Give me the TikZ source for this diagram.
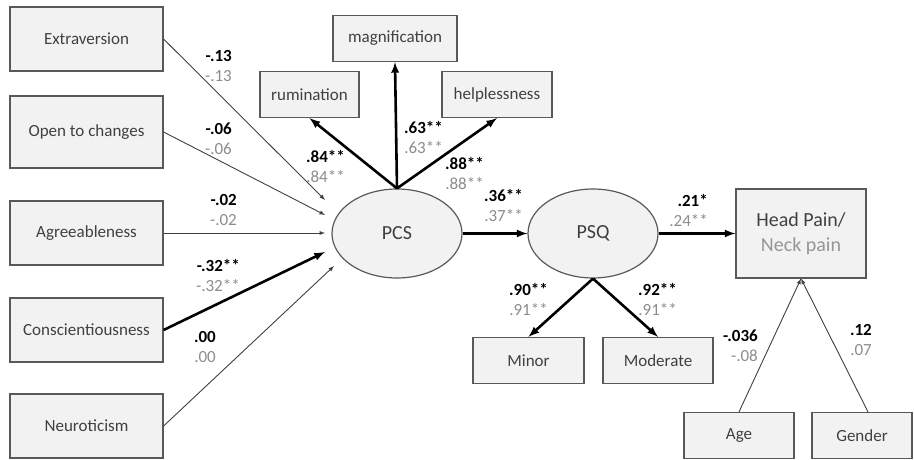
\documentclass[tikz,border=0pt]{standalone}
\usepackage{fontspec}
\setmainfont{Carlito}
\usepackage{tikz}
\usetikzlibrary{shapes,arrows,positioning,calc}
\definecolor{boxFill}{RGB}{242,242,242}
\definecolor{boxLine}{RGB}{89,89,89}
\definecolor{boxText}{RGB}{64,64,64}
\definecolor{coefGrey}{RGB}{140,140,140}
\definecolor{neckGrey}{RGB}{150,150,150}

\begin{document}
\begin{tikzpicture}[
    x=1pt, y=-1pt,
    node distance=94pt,
    box/.style={rectangle, draw=boxLine, line width=1.2pt, fill=boxFill, text=boxText, inner sep=0pt, minimum width=153pt, minimum height=64pt, font=\fontsize{17}{20}\selectfont},
    item/.style={box, minimum height=46pt},
    latent/.style={ellipse, draw=boxLine, line width=1.2pt, fill=boxFill, text=boxText, inner sep=0pt, minimum width=130pt, minimum height=89pt, font=\fontsize{20}{24}\selectfont},
    arrow/.style={-latex, line width=0.9pt, draw=boxText},
    thickarrow/.style={-latex, line width=2.6pt},
    coef/.style={align=right, anchor=east, inner sep=0pt, font=\fontsize{17}{20}\selectfont}
]
    \useasboundingbox (0,0) rectangle (914,460);

    % Personality traits
    \node[box] (extra) at (86.5,39) {Extraversion};
    \node[box, below of=extra, minimum height=72pt, yshift=1pt] (open) {Open to changes};
    \node[box, below of=open, yshift=-7pt] (agree) {Agreeableness};
    \node[box, below of=agree, yshift=-3pt] (consc) {Conscientiousness};
    \node[box, below of=consc, yshift=-2pt] (neuro) {Neuroticism};

    % PCS and its items
    \node[latent] (pcs) at (397,233.5) {PCS};
    \node[item, minimum width=124pt] (magni) at (395,38.5) {magnification};
    \node[item, minimum width=99pt] (rumi) at (309.5,94.5) {rumination};
    \node[item, minimum width=110pt] (help) at (497,94.5) {helplessness};

    % PSQ and its items
    \node[latent, right of=pcs, xshift=102pt] (psq) {PSQ};
    \node[item, minimum width=111pt] (minor) at (528.5,360.5) {Minor};
    \node[item, minimum width=110pt] (moder) at (658,360.5) {Moderate};

    % Outcome
    \node[box, right of=psq, xshift=114pt, minimum width=130pt, minimum height=89pt, align=center, font=\fontsize{20}{25}\selectfont] (pain) {Head Pain/\\\textcolor{neckGrey}{Neck pain}};
    \node[item, minimum width=110pt] (age) at (739,435.5) {Age};
    \node[item, minimum width=100pt] (gender) at (862,435.5) {Gender};

    % Arrow ends in front of PCS
    \coordinate (inExtra) at (325,200);
    \coordinate (inOpen) at (325,215);
    \coordinate (inAgree) at (325,233);
    \coordinate (inConsc) at (325,252);
    \coordinate (inNeuro) at (334,266);

    % Arrows
    \draw[arrow] (extra.east) -- (inExtra);
    \draw[arrow] (open.east) -- (inOpen);
    \draw[arrow] (agree.east |- inAgree) -- (inAgree);
    \draw[thickarrow] (consc.east) -- (inConsc);
    \draw[arrow] (neuro.east) -- (inNeuro);
    \draw[thickarrow] (pcs.north) -- (rumi.south);
    \draw[thickarrow] (pcs.north) -- (magni.south);
    \draw[thickarrow] (pcs.north) -- (help.south);
    \draw[thickarrow] (pcs.east) -- (psq.west);
    \draw[thickarrow] (psq.east) -- (pain.west);
    \draw[thickarrow] (psq.south) -- (minor.north);
    \draw[thickarrow] (psq.south) -- (moder.north);
    \draw[arrow] (age.north) -- (pain.south);
    \draw[arrow] ($(gender.north)+(6,0)$) -- (pain.south);

    % Coefficients
    \node[coef] (cExtra) at (232,66) {\textbf{-.13}\\\textcolor{coefGrey}{-.13}};
    \node[coef] (cOpen) at (232,139) {\textbf{-.06}\\\textcolor{coefGrey}{-.06}};
    \node[coef] (cAgree) at (237,210) {\textbf{-.02}\\\textcolor{coefGrey}{-.02}};
    \node[coef] (cConsc) at (240,275) {\textbf{-.32**}\\\textcolor{coefGrey}{-.32**}};
    \node[coef] (cNeuro) at (216,347) {\textbf{.00}\\\textcolor{coefGrey}{.00}};
    \node[coef] (cRumi) at (345,166.5) {\textbf{.84**}\\\textcolor{coefGrey}{.84**}};
    \node[coef] (cMagni) at (443,137) {\textbf{.63**}\\\textcolor{coefGrey}{.63**}};
    \node[coef] (cHelp) at (484,173) {\textbf{.88**}\\\textcolor{coefGrey}{.88**}};
    \node[coef] (cPsq) at (523,205) {\textbf{.36**}\\\textcolor{coefGrey}{.37**}};
    \node[coef] (cPain) at (708,210) {\textbf{.21*}\\\textcolor{coefGrey}{.24**}};
    \node[coef] (cMinor) at (548,299) {\textbf{.90**}\\\textcolor{coefGrey}{.91**}};
    \node[coef] (cModer) at (677,299) {\textbf{.92**}\\\textcolor{coefGrey}{.91**}};
    \node[coef] (cAge) at (758,346) {\textbf{-.036}\\\textcolor{coefGrey}{-.08}};
    \node[coef] (cGender) at (872,340) {\textbf{.12}\\\textcolor{coefGrey}{.07}};
\end{tikzpicture}
\end{document}
